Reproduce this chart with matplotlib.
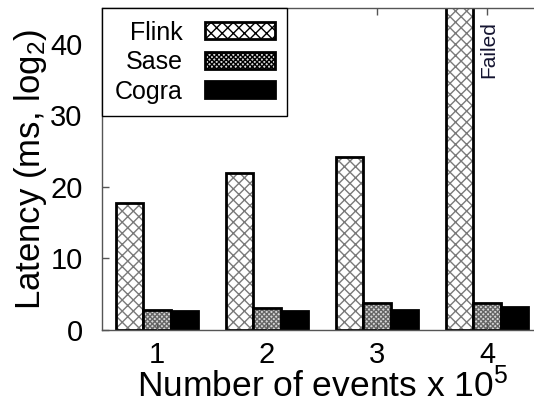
import numpy as np
import matplotlib
matplotlib.use("Agg")
import matplotlib.pyplot as plt
from matplotlib.patches import Patch

plt.rcParams['font.family'] = ['Liberation Sans', 'DejaVu Sans']
plt.rcParams['mathtext.default'] = 'regular'
plt.rcParams['hatch.linewidth'] = 1.0

# data
groups = [1, 2, 3, 4]
flink = [17.7, 21.9, 24.2, 46.0]   # 4 -> failed, bar runs off the top
sase = [2.75, 3.1, 3.8, 3.8]
cogra = [2.7, 2.7, 2.85, 3.2]
series = ["Flink", "Sase", "Cogra"]

fig = plt.figure(figsize=(5.34, 4.03), dpi=100)
ax = fig.add_axes([102/534, 73/403, 440/534, 322/403])

x = np.array(groups, dtype=float)
w = 0.25

# Flink: gray crosshatch, black outline
ax.bar(x - w, flink, w, color='white', edgecolor='#7a7a7a', hatch='xxx', linewidth=0)
ax.bar(x - w, flink, w, fill=False, edgecolor='black', linewidth=2)
# Sase: fine gray checker
ax.bar(x, sase, w, color='#d8d8d8', edgecolor='#666666', hatch='xxxxxxx', linewidth=0)
ax.bar(x, sase, w, fill=False, edgecolor='black', linewidth=2)
# Cogra: solid black
ax.bar(x + w, cogra, w, color='black', edgecolor='black', linewidth=2)

ax.text(4.02, 39.2, "Failed", rotation=90, ha='center', va='center',
        fontsize=15, color='#141430')

ax.set_xlim(0.5, 4.5)
ax.set_ylim(0, 45)
ax.set_xticks(groups)
ax.set_yticks([0, 10, 20, 30, 40])
ax.tick_params(axis='both', direction='in', length=5, width=1, color='#555555',
               labelsize=21, top=True)
ax.tick_params(axis='y', pad=14)
ax.tick_params(axis='x', pad=8)
for s in ['left', 'bottom', 'top', 'right']:
    ax.spines[s].set_color('#555555')
    ax.spines[s].set_linewidth(1)

ax.set_xlabel("Number of events x 10$^5$", fontsize=25.5, labelpad=-1)
ax.set_ylabel("Latency (ms, log$_2$)", fontsize=25, labelpad=1)

# legend proxies
h1 = Patch(facecolor='white', edgecolor='black', hatch='xxx', linewidth=2)
h2 = Patch(facecolor='#d8d8d8', edgecolor='black', hatch='xxxxxxx', linewidth=2)
h3 = Patch(facecolor='black', edgecolor='black', linewidth=2)
leg = ax.legend([h1, h2, h3], series, loc='upper left', bbox_to_anchor=(0, 1),
                borderaxespad=0, fontsize=18, markerfirst=False, fancybox=False,
                handlelength=2.8, handleheight=0.65, handletextpad=0.9,
                labelspacing=0.22, borderpad=0.5, framealpha=1)
leg.get_frame().set_edgecolor('black')
leg.get_frame().set_linewidth(1)

fig.savefig("out.png", dpi=100)
